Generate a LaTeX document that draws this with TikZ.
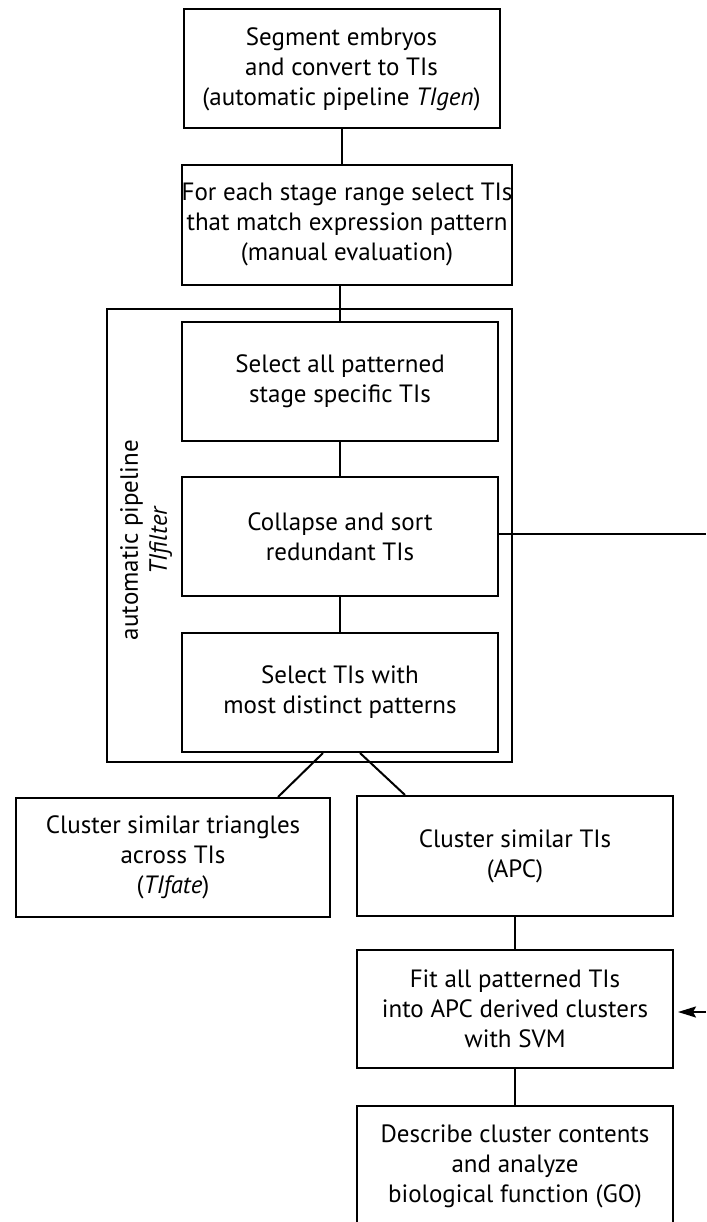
\documentclass[tikz,border=0pt]{standalone}
\usepackage{fontspec}
\setmainfont{PT Sans}
\usepackage{tikz}
\usetikzlibrary{calc}
\usetikzlibrary{arrows.meta}

\begin{document}
\begin{tikzpicture}[x=1pt,y=-1pt,line width=2pt,
    stepbox/.style={draw,line width=2pt,align=center,inner sep=0pt,minimum width=316pt,minimum height=119pt,
      font=\fontsize{25}{30}\selectfont}]
      \useasboundingbox (0,0) rectangle (706,1222);
      \node[stepbox] (segment) at (341.5,69) {Segment embryos\\and convert to TIs\\(automatic pipeline \textit{TIgen})};
      \node[stepbox,minimum width=330pt,minimum height=120pt] (manual) at (347,225) {For each stage range select TIs\\that match expression pattern\\(manual evaluation)};
      \node[draw,minimum width=405pt,minimum height=453pt] (tifilter) at (309.5,535.5) {};
      \node[stepbox] (selall) at (340,381) {Select all patterned\\stage specific TIs};
      \node[stepbox] (collapse) at (340,536.5) {Collapse and sort\\redundant TIs};
      \node[stepbox] (distinct) at (340,692.5) {Select TIs with\\most distinct patterns};
      \node[rotate=90,align=center,font=\fontsize{25}{29}\selectfont] (pipe) at (146,540) {automatic pipeline\\\textit{TIfilter}};
      \node[stepbox,minimum width=314pt] (tifate) at (173,857.5) {Cluster similar triangles\\across TIs\\(\textit{TIfate})};
      \node[stepbox,minimum height=120pt] (apc) at (515,856) {Cluster similar TIs\\(APC)};
      \node[stepbox,minimum height=118pt] (svm) at (515,1009) {Fit all patterned TIs\\into APC derived clusters\\with SVM};
      \node[stepbox,minimum height=120pt] (go) at (515,1166) {Describe cluster contents\\and analyze\\biological function (GO)};
      \coordinate (out) at (706,534);
      \coordinate (in) at (706,1012);
      \path (segment.south) edge (segment.south |- manual.north);
      \path (selall.north) edge (selall.north |- manual.south);
      \path (selall) edge (collapse);
      \path (collapse) edge (distinct);
      \path ($(distinct.south)+(-17,0)$) edge ($(tifate.north)+(105,0)$);
      \path ($(distinct.south)+(20,0)$) edge ($(apc.north)+(-110,0)$);
      \path (apc) edge (svm);
      \path (svm) edge (go);
      \draw (collapse.east |- out) -- (out);
      \draw[-{Stealth[length=18pt,width=11pt,inset=3pt]},shorten >=4pt] (in) -- (in -| svm.east);
    \end{tikzpicture}
\end{document}
